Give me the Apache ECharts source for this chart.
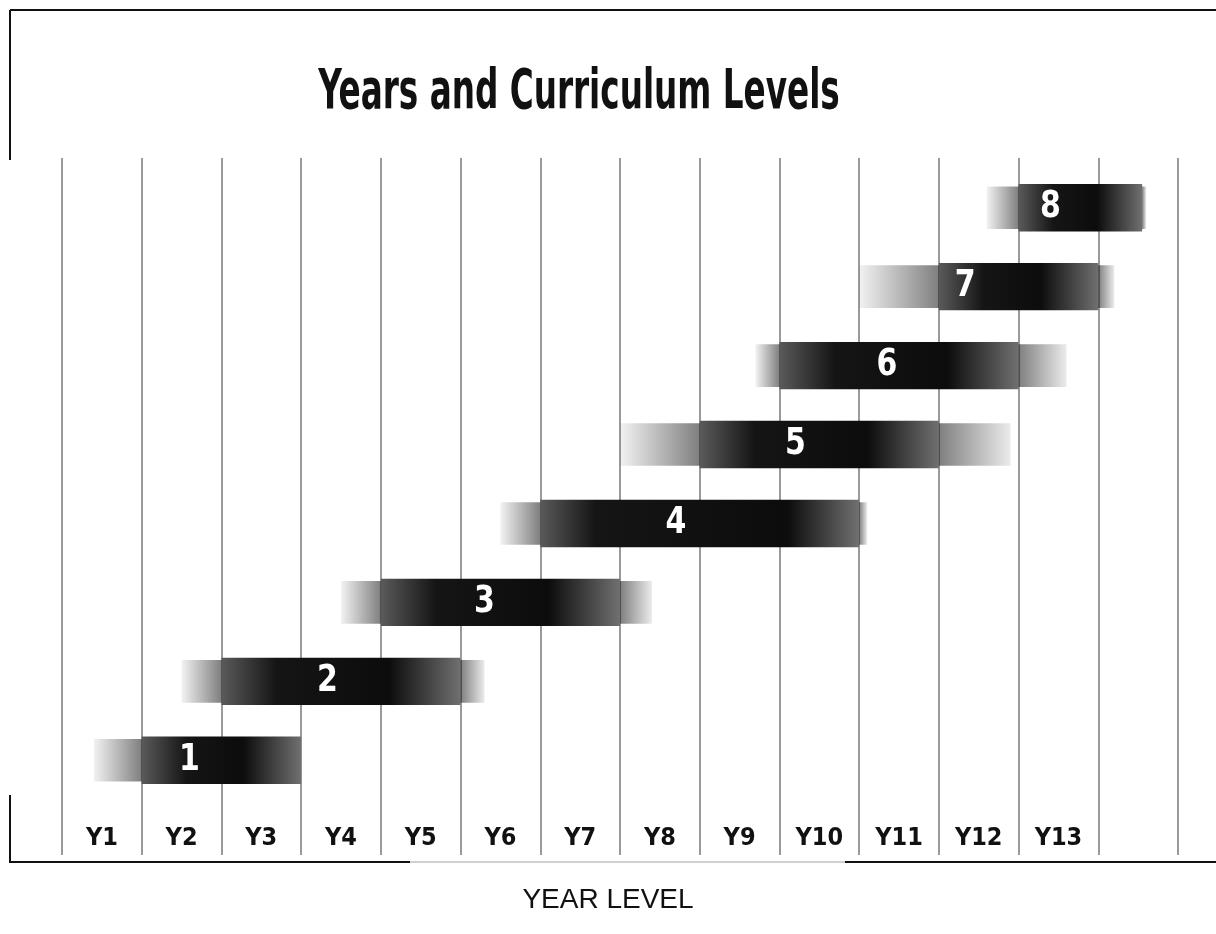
<!DOCTYPE html>
<html>
<head>
<meta charset="utf-8">
<script src="https://cdn.jsdelivr.net/npm/echarts@6/dist/echarts.min.js"></script>
<style>
  html, body { margin: 0; padding: 0; background: #fff; }
  #chart { width: 1216px; height: 934px; }
</style>
</head>
<body>
<div id="chart"></div>
<script>
// year columns along the bottom (last column is empty)
var years = ['Y1', 'Y2', 'Y3', 'Y4', 'Y5', 'Y6', 'Y7', 'Y8', 'Y9', 'Y10', 'Y11', 'Y12', 'Y13', ''];

// curriculum levels, one bar each (x in year-column units, 0 = left edge of Y1)
var levels = [1, 2, 3, 4, 5, 6, 7, 8];
var fadeStart = [0.4, 1.5, 3.5, 5.5, 7.0, 8.7, 10.0, 11.6];
var coreStart = [1, 2, 4, 6, 8, 9, 11, 12];
var coreEnd = [3, 5, 7, 10, 11, 12, 13, 13.55];
var fadeEnd = [3.0, 5.3, 7.4, 10.1, 11.9, 12.6, 13.2, 13.6];
var levelMark = [1.6, 3.33, 5.3, 7.7, 9.2, 10.35, 11.33, 12.4];

var myChart = echarts.init(document.getElementById('chart'));

var barData = levels.map(function (lv, i) {
  return [fadeStart[i], coreStart[i], coreEnd[i], fadeEnd[i], lv, levelMark[i]];
});

function renderBar(params, api) {
  var f0 = api.value(0), c0 = api.value(1), c1 = api.value(2), f1 = api.value(3);
  var lv = api.value(4), mark = api.value(5);
  var pF0 = api.coord([f0, lv]);
  var pC0 = api.coord([c0, lv]);
  var pC1 = api.coord([c1, lv]);
  var pF1 = api.coord([f1, lv]);
  var pM = api.coord([mark, lv]);
  var unitH = api.size([0, 1])[1];
  var hFade = unitH * 0.54;
  var hCore = unitH * 0.60;
  var span = Math.max(pF1[0] - pF0[0], 1);
  var s0 = (pC0[0] - pF0[0]) / span;
  var s1 = (pC1[0] - pF0[0]) / span;
  var coreW = pC1[0] - pC0[0];
  var edge = Math.min(0.28, 55 / coreW);

  return {
    type: 'group',
    children: [
      {
        type: 'rect',
        shape: { x: pF0[0], y: pF0[1] - hFade / 2, width: span, height: hFade },
        style: {
          fill: new echarts.graphic.LinearGradient(0, 0, 1, 0, [
            { offset: 0, color: 'rgba(0,0,0,0.05)' },
            { offset: Math.max(s0, 0.001), color: 'rgba(0,0,0,0.5)' },
            { offset: Math.min(s1, 0.999), color: 'rgba(0,0,0,0.5)' },
            { offset: 1, color: 'rgba(0,0,0,0.08)' }
          ])
        }
      },
      {
        type: 'rect',
        shape: { x: pC0[0], y: pC0[1] - hCore / 2, width: coreW, height: hCore },
        style: {
          fill: new echarts.graphic.LinearGradient(0, 0, 1, 0, [
            { offset: 0, color: '#5a5a5a' },
            { offset: edge, color: '#151515' },
            { offset: 1 - edge * 1.3, color: '#0c0c0c' },
            { offset: 1, color: '#707070' }
          ])
        }
      },
      {
        type: 'text',
        x: pM[0],
        y: pM[1],
        scaleX: 0.9,
        style: {
          text: String(lv),
          fill: '#fff',
          font: 'bold 37px "DejaVu Sans Condensed", "DejaVu Sans", sans-serif',
          align: 'center',
          verticalAlign: 'middle'
        }
      }
    ]
  };
}

var option = {
  animation: false,
  backgroundColor: '#fff',
  grid: { left: 62, right: 38, top: 158, bottom: 79 },
  xAxis: [
    {
      type: 'value',
      min: 0,
      max: years.length,
      interval: 1,
      axisLine: { show: false },
      axisTick: { show: false },
      axisLabel: { show: false },
      splitLine: { show: true, lineStyle: { color: '#9a9a9a', width: 2 } }
    },
    {
      type: 'category',
      data: years,
      position: 'bottom',
      offset: -33,
      axisLine: { show: false },
      axisTick: { show: false },
      splitLine: { show: false },
      axisLabel: {
        color: '#111',
        fontSize: 25,
        fontWeight: 'bold',
        fontFamily: '"DejaVu Sans Condensed", sans-serif',
        margin: 4
      }
    }
  ],
  yAxis: {
    type: 'value',
    min: -0.2,
    max: 8.63,
    show: false,
    splitLine: { show: false }
  },
  series: [
    {
      type: 'custom',
      xAxisIndex: 0,
      renderItem: renderBar,
      data: barData
    }
  ],
  graphic: [
    {
      type: 'text',
      x: 579,
      y: 94,
      scaleX: 0.66,
      style: {
        text: 'Years and Curriculum Levels',
        font: 'bold 55px "DejaVu Sans Condensed", sans-serif',
        fill: '#111',
        align: 'center',
        verticalAlign: 'middle'
      }
    },
    {
      type: 'text',
      left: 'center',
      top: 886,
      style: {
        text: 'YEAR LEVEL',
        font: '28px "Liberation Sans", Arial, sans-serif',
        fill: '#111'
      }
    },
    // scanned page frame
    { type: 'line', shape: { x1: 10, y1: 10, x2: 1216, y2: 10 }, style: { stroke: '#111', lineWidth: 2 } },
    { type: 'line', shape: { x1: 10, y1: 10, x2: 10, y2: 160 }, style: { stroke: '#111', lineWidth: 2 } },
    { type: 'line', shape: { x1: 10, y1: 795, x2: 10, y2: 863 }, style: { stroke: '#111', lineWidth: 2 } },
    { type: 'line', shape: { x1: 10, y1: 862, x2: 410, y2: 862 }, style: { stroke: '#111', lineWidth: 2 } },
    { type: 'line', shape: { x1: 410, y1: 862, x2: 845, y2: 862 }, style: { stroke: '#d0d0d0', lineWidth: 2 } },
    { type: 'line', shape: { x1: 845, y1: 862, x2: 1216, y2: 862 }, style: { stroke: '#111', lineWidth: 2 } }
  ]
};

myChart.setOption(option);
</script>
</body>
</html>
